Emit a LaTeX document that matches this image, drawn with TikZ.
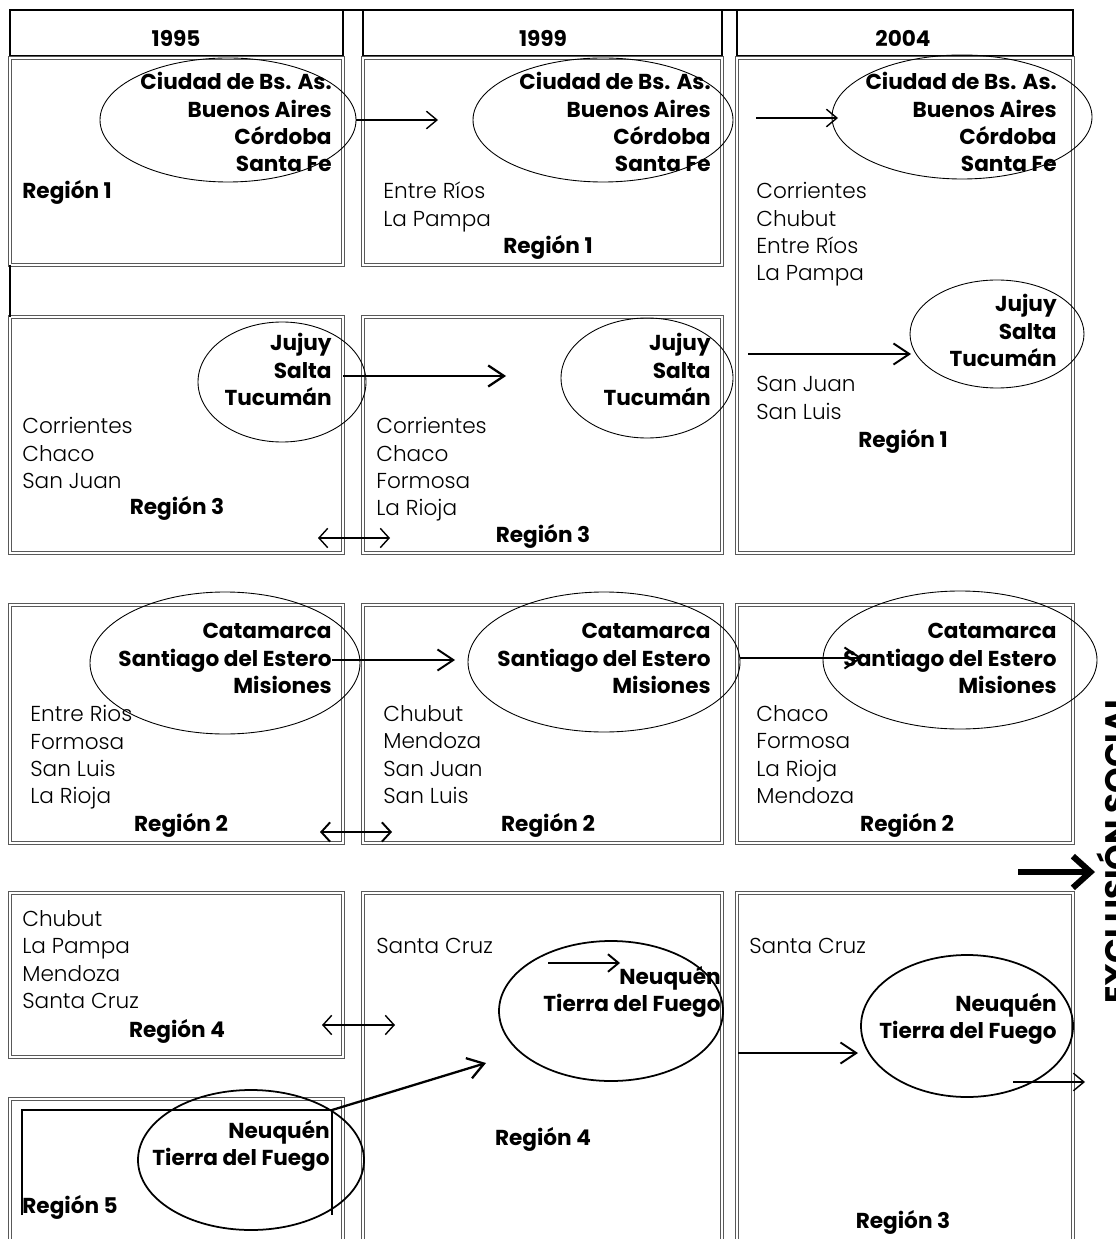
\documentclass[tikz,border=0pt]{standalone}
\usepackage{fontspec}
\setmainfont{Poppins}[UprightFont={* Light}, BoldFont={* Bold}]
\usetikzlibrary{arrows.meta}

\newcommand{\txsize}{\fontsize{12.3}{15.6}\selectfont}

\tikzset{
  yr/.style={draw, line width=1.2pt},
  cell/.style={draw=black!65, double=white, double distance=0.8pt, line width=0.6pt},
  hi/.style={font=\txsize\bfseries, align=right, anchor=north east, inner sep=0pt},
  lo/.style={font=\txsize, align=left, anchor=north west, inner sep=0pt},
  reg/.style={font=\txsize\bfseries, inner sep=0pt},
  ov/.style={draw, line width=0.5pt},
  ovb/.style={draw, line width=1pt},
  arr/.style={-{Straight Barb[length=6pt,width=10pt]}, line width=0.8pt},
  arrl/.style={-{Straight Barb[length=9pt,width=12pt]}, line width=1.1pt},
  darr/.style={{Straight Barb[length=5pt,width=11pt]}-{Straight Barb[length=5pt,width=11pt]}, line width=0.8pt}
}

\begin{document}
\begin{tikzpicture}[x=0.02cm, y=-0.02cm]
\useasboundingbox (0,0) rectangle (1115,1239);
\clip (0,0) rectangle (1115,1239);

% year headers
\draw [yr] (10,10) rectangle (343,56);
\draw [yr] (363,10) rectangle (722,56);
\draw [yr] (737,10) rectangle (1073,56);
\draw [yr] (10,10) -- (1073,10);
\node [reg] (y95) at (176,38) {1995};
\node [reg] (y99) at (543,38) {1999};
\node [reg] (y04) at (903,38) {2004};

% boxes
\draw [cell] (10,58) rectangle (343,265);
\draw [cell] (363,58) rectangle (722,265);
\draw [cell] (737,58) rectangle (1073,553);
\draw [cell] (10,317) rectangle (343,553);
\draw [cell] (363,317) rectangle (722,553);
\draw [cell] (10,605) rectangle (343,843);
\draw [cell] (363,605) rectangle (722,843);
\draw [cell] (737,605) rectangle (1073,843);
\draw [cell] (10,893) rectangle (343,1057);
\draw [cell] (363,893) rectangle (722,1260);
\draw [cell] (737,893) rectangle (1073,1260);
\draw [cell] (10,1099) rectangle (343,1260);
\draw [line width=1.2pt] (10,265) -- (10,317);
\draw [line width=1pt] (22,1215) -- (22,1110) -- (332,1110) -- (332,1215);

% region 1 row
\node [hi] (c95) at (332,72) {Ciudad de Bs. As.\\Buenos Aires\\Córdoba\\Santa Fe};
\node [reg, anchor=west] (r95a) at (22,192) {Región 1};
\node [hi] (c99) at (711,72) {Ciudad de Bs. As.\\Buenos Aires\\Córdoba\\Santa Fe};
\node [lo] (l99a) at (383,182) {Entre Ríos\\La Pampa};
\node [reg] (r99a) at (548,247) {Región 1};
\node [hi] (c04) at (1057,72) {Ciudad de Bs. As.\\Buenos Aires\\Córdoba\\Santa Fe};
\node [lo] (l04a) at (756,182) {Corrientes\\Chubut\\Entre Ríos\\La Pampa};
\node [hi] (j04) at (1057,294) {Jujuy\\Salta\\Tucumán};
\node [lo] (s04) at (756,376) {San Juan\\San Luis};
\node [reg] (r04a) at (903,441) {Región 1};

% region 3 row
\node [hi] (j95) at (332,333) {Jujuy\\Salta\\Tucumán};
\node [lo] (l95c) at (22,417) {Corrientes\\Chaco\\San Juan};
\node [reg] (r95c) at (177,508) {Región 3};
\node [hi] (j99) at (711,333) {Jujuy\\Salta\\Tucumán};
\node [lo] (l99c) at (376,417) {Corrientes\\Chaco\\Formosa\\La Rioja};
\node [reg] (r99c) at (543,536) {Región 3};

% region 2 row
\node [hi] (k95) at (332,623) {Catamarca\\Santiago del Estero\\Misiones};
\node [lo] (l95b) at (30,705) {Entre Rios\\Formosa\\San Luis\\La Rioja};
\node [reg] (r95b) at (181,825) {Región 2};
\node [hi] (k99) at (711,623) {Catamarca\\Santiago del Estero\\Misiones};
\node [lo] (l99b) at (383,705) {Chubut\\Mendoza\\San Juan\\San Luis};
\node [reg] (r99b) at (548,825) {Región 2};
\node [hi] (k04) at (1057,623) {Catamarca\\Santiago del Estero\\Misiones};
\node [lo] (l04b) at (756,705) {Chaco\\Formosa\\La Rioja\\Mendoza};
\node [reg] (r04b) at (907,825) {Región 2};

% region 4 / 5 row
\node [lo] (l95d) at (22,910) {Chubut\\La Pampa\\Mendoza\\Santa Cruz};
\node [reg] (r95d) at (177,1031) {Región 4};
\node [lo] (l99d) at (376,938) {Santa Cruz};
\node [hi] (n99) at (721,966) {Neuquén\\Tierra del Fuego};
\node [reg] (r99d) at (543,1139) {Región 4};
\node [lo] (l04d) at (749,938) {Santa Cruz};
\node [hi] (n04) at (1057,993) {Neuquén\\Tierra del Fuego};
\node [reg] (r04d) at (903,1222) {Región 3};
\node [hi] (n95) at (330,1120) {Neuquén\\Tierra del Fuego};
\node [reg, anchor=west] (r95e) at (22,1207) {Región 5};

% ellipses
\draw [ov] (228,120) ellipse [x radius=128, y radius=62];
\draw [ov] (603,120) ellipse [x radius=130, y radius=62];
\draw [ov] (962,117) ellipse [x radius=130, y radius=62];
\draw [ov] (282,382) ellipse [x radius=84, y radius=60];
\draw [ov] (647,378) ellipse [x radius=86, y radius=60];
\draw [ov] (997,334) ellipse [x radius=87, y radius=54];
\draw [ov] (225,663) ellipse [x radius=135, y radius=71];
\draw [ov] (604,662) ellipse [x radius=136, y radius=70];
\draw [ov] (960,660) ellipse [x radius=137, y radius=69];
\draw [ovb] (611,1011) ellipse [x radius=112, y radius=70];
\draw [ovb] (967,1026) ellipse [x radius=106, y radius=71];
\draw [ovb] (251,1160) ellipse [x radius=113, y radius=70];

% arrow ends
\coordinate (a1) at (356,120);  \coordinate (b1) at (438,120);
\coordinate (a2) at (756,118);  \coordinate (b2) at (838,118);
\coordinate (a3) at (343,376);  \coordinate (b3) at (506,376);
\coordinate (a4) at (748,354);  \coordinate (b4) at (911,354);
\coordinate (a5) at (318,538);  \coordinate (b5) at (390,538);
\coordinate (a6) at (332,660);  \coordinate (b6) at (455,660);
\coordinate (a7) at (740,658);  \coordinate (b7) at (862,658);
\coordinate (a8) at (320,832);  \coordinate (b8) at (392,832);
\coordinate (a9) at (322,1025); \coordinate (b9) at (395,1025);
\coordinate (a10) at (332,1110); \coordinate (b10) at (486,1063);
\coordinate (a11) at (548,963); \coordinate (b11) at (620,963);
\coordinate (a12) at (738,1053); \coordinate (b12) at (858,1053);
\coordinate (a13) at (1013,1082); \coordinate (b13) at (1085,1082);
\coordinate (a14) at (1018,872); \coordinate (b14) at (1095,872);

\draw [arr] (a1) -- (b1);
\draw [arr] (a2) -- (b2);
\draw [arrl, line width=1.3pt] (a3) -- (b3);
\draw [arrl] (a4) -- (b4);
\draw [darr] (a5) -- (b5);
\draw [arrl] (a6) -- (b6);
\draw [arrl] (a7) -- (b7);
\draw [darr, line width=1.1pt] (a8) -- (b8);
\draw [darr] (a9) -- (b9);
\draw [arrl, line width=1.3pt] (a10) -- (b10);
\draw [arr, line width=1.1pt] (a11) -- (b11);
\draw [arrl] (a12) -- (b12);
\draw [arr] (a13) -- (b13);
\draw [-{Straight Barb[length=10pt,width=18pt]}, line width=3.5pt] (a14) -- (b14);

\node [font=\fontsize{18.5}{22}\selectfont\bfseries, rotate=90, anchor=north, inner sep=0pt] (excl) at (1096,849) {EXCLUSIÓN SOCIAL};

\end{tikzpicture}
\end{document}
